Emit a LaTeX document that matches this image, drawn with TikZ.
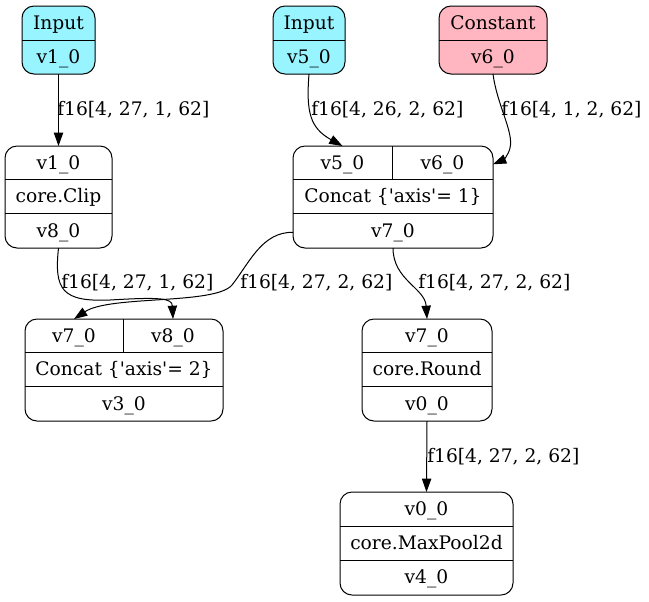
\documentclass[tikz,border=0pt]{standalone}
\usepackage{fontspec}
\setmainfont{DejaVu Serif}
\usetikzlibrary{arrows.meta}
\definecolor{inputfill}{HTML}{98F5FF}
\definecolor{constfill}{HTML}{FFB6C1}

\begin{document}
\begin{tikzpicture}[x=0.75pt,y=-0.75pt,
  box/.style={draw=black, line width=0.75pt, rounded corners=9pt,
    inner sep=0pt, outer sep=0pt},
  lbl/.style={font=\fontsize{14}{16}\selectfont, inner sep=0pt, anchor=base},
  edge/.style={line width=0.75pt, -{Triangle[length=10pt,width=7pt]}},
  elabel/.style={font=\fontsize{14}{16}\selectfont, inner sep=0pt, anchor=west},
  sep/.style={line width=0.75pt}]
\useasboundingbox (0,0) rectangle (649,601);

% ---------- Input v1_0 ----------
\node[box, fill=inputfill, minimum width=73*0.75pt, minimum height=68*0.75pt] (in1) at (58.5,40) {};
\draw[sep] (22,40) -- (95,40);
\node[lbl] (in1t) at (58.5,29) {Input};
\node[lbl] (in1v) at (58.5,63) {v1\_0};

% ---------- Input v5_0 ----------
\node[box, fill=inputfill, minimum width=72*0.75pt, minimum height=68*0.75pt] (in5) at (309,40) {};
\draw[sep] (273,40) -- (345,40);
\node[lbl] (in5t) at (309,29) {Input};
\node[lbl] (in5v) at (309,63) {v5\_0};

% ---------- Constant v6_0 ----------
\node[box, fill=constfill, minimum width=108*0.75pt, minimum height=68*0.75pt] (cst) at (493,40) {};
\draw[sep] (439,40) -- (547,40);
\node[lbl] (cstt) at (493,29) {Constant};
\node[lbl] (cstv) at (493,63) {v6\_0};

% ---------- core.Clip ----------
\node[box, fill=white, minimum width=107*0.75pt, minimum height=102*0.75pt] (clip) at (58.5,197) {};
\draw[sep] (5,179) -- (112,179);
\draw[sep] (5,213) -- (112,213);
\node[lbl] (clipa) at (58.5,169) {v1\_0};
\node[lbl] (clipo) at (58.5,202.5) {core.Clip};
\node[lbl] (clipv) at (58.5,237) {v8\_0};

% ---------- Concat axis 1 ----------
\node[box, fill=white, minimum width=200*0.75pt, minimum height=102*0.75pt] (cc1) at (393,197) {};
\draw[sep] (293,179) -- (493,179);
\draw[sep] (293,213) -- (493,213);
\draw[sep] (392,146) -- (392,179);
\node[lbl] (cc1a) at (342.5,169) {v5\_0};
\node[lbl] (cc1b) at (442.5,169) {v6\_0};
\node[lbl] (cc1o) at (393,202.5) {Concat \{\textquotesingle axis\textquotesingle= 1\}};
\node[lbl] (cc1v) at (393,237) {v7\_0};

% ---------- Concat axis 2 ----------
\node[box, fill=white, minimum width=198*0.75pt, minimum height=102*0.75pt] (cc2) at (124,370) {};
\draw[sep] (25,352) -- (223,352);
\draw[sep] (25,386) -- (223,386);
\draw[sep] (123,319) -- (123,352);
\node[lbl] (cc2a) at (74,342) {v7\_0};
\node[lbl] (cc2b) at (173,342) {v8\_0};
\node[lbl] (cc2o) at (124,375.5) {Concat \{\textquotesingle axis\textquotesingle= 2\}};
\node[lbl] (cc2v) at (124,410) {v3\_0};

% ---------- core.Round ----------
\node[box, fill=white, minimum width=130*0.75pt, minimum height=102*0.75pt] (rnd) at (427,370) {};
\draw[sep] (362,352) -- (492,352);
\draw[sep] (362,386) -- (492,386);
\node[lbl] (rnda) at (427,342) {v7\_0};
\node[lbl] (rndo) at (427,375.5) {core.Round};
\node[lbl] (rndv) at (427,410) {v0\_0};

% ---------- core.MaxPool2d ----------
\node[box, fill=white, minimum width=173*0.75pt, minimum height=103*0.75pt] (mp) at (426.5,543.5) {};
\draw[sep] (340,526) -- (513,526);
\draw[sep] (340,560) -- (513,560);
\node[lbl] (mpa) at (426.5,515.5) {v0\_0};
\node[lbl] (mpo) at (426.5,549) {core.MaxPool2d};
\node[lbl] (mpv) at (426.5,583.5) {v4\_0};

% ---------- connectors ----------
\draw[edge] (in1.south) -- (clip.north);
\draw[edge] (in5.south) .. controls (306,112) and (310,128) .. (cc1a |- cc1.north);
\draw[edge] (cst.south) .. controls (497,105) and (514,132) .. (510,148)
  .. controls (508,156) and (503,160) .. (cc1.east |- cc1b);
\draw[edge] (clip.south) .. controls (54,290) and (62,302) .. (110,300)
  .. controls (160,297) and (172,298) .. (cc2b |- cc2.north);
\draw[edge] (cc1.west |- cc1v) .. controls (262,232) and (250,262) .. (232,285)
  .. controls (215,305) and (110,295) .. (cc2a |- cc2.north);
\draw[edge] (cc1.south) .. controls (393,280) and (425,288) .. (rnd.north);
\draw[edge] (rnd.south) -- (mp.north);

% ---------- edge labels ----------
\node[elabel] (l1) at (57,110) {f16[4, 27, 1, 62]};
\node[elabel] (l2) at (311,110) {f16[4, 26, 2, 62]};
\node[elabel] (l3) at (501,110) {f16[4, 1, 2, 62]};
\node[elabel] (l4) at (61,283) {f16[4, 27, 1, 62]};
\node[elabel] (l5) at (240,283) {f16[4, 27, 2, 62]};
\node[elabel] (l6) at (418,283) {f16[4, 27, 2, 62]};
\node[elabel] (l7) at (427,457) {f16[4, 27, 2, 62]};
\end{tikzpicture}
\end{document}
